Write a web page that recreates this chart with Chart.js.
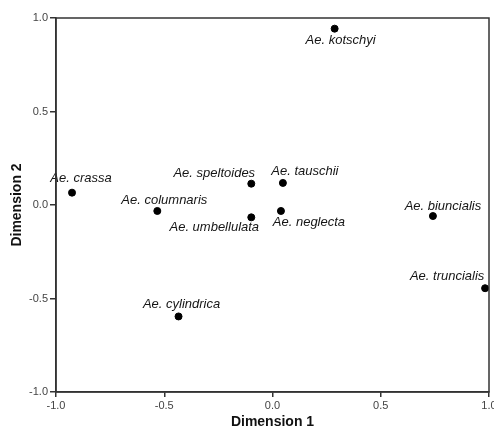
<!DOCTYPE html>
<html>
<head>
<meta charset="utf-8">
<script src="https://cdn.jsdelivr.net/npm/chart.js@4.4.0/dist/chart.umd.min.js"></script>
<style>
  body { margin: 0; background: #fff; }
  canvas { display: block; }
</style>
</head>
<body>
<canvas id="myChart" width="494" height="429"></canvas>
<script>
// species names and their coordinates on the two dimensions
const species = ['Ae. kotschyi', 'Ae. crassa', 'Ae. columnaris', 'Ae. speltoides', 'Ae. tauschii',
    'Ae. neglecta', 'Ae. umbellulata', 'Ae. biuncialis', 'Ae. truncialis', 'Ae. cylindrica']
const dim1 = [0.287, -0.926, -0.532, -0.098, 0.048, 0.039, -0.098, 0.741, 0.982, -0.434]
const dim2 = [0.943, 0.066, -0.032, 0.114, 0.118, -0.032, -0.066, -0.059, -0.445, -0.596]
const axisTicks = [-1.0, -0.5, 0.0, 0.5, 1.0]

// where each name sits relative to its point (pixels)
const labelOffsets = [[6, 12], [9, -14], [7, -11], [-37, -10], [22, -12],
    [28, 11], [-37, 10], [10, -10], [-38, -12], [3, -12]]

function getPoints() {
    let pts = []
    dim1.forEach((x, i) => {
        pts.push({ x: x, y: dim2[i] })
    })
    return pts
}

const frame = {
    id: 'frame',
    afterDraw(chart) {
        const a = chart.chartArea
        const ctx = chart.ctx
        ctx.save()
        ctx.strokeStyle = '#333'
        ctx.lineWidth = 1.5
        ctx.strokeRect(a.left, a.top, a.right - a.left, a.bottom - a.top)
        ctx.restore()
    }
}

const pointNames = {
    id: 'pointNames',
    afterDatasetsDraw(chart) {
        const ctx = chart.ctx
        const meta = chart.getDatasetMeta(0)
        ctx.save()
        ctx.font = 'italic 13px "Liberation Sans", Arial, sans-serif'
        ctx.fillStyle = '#151515'
        ctx.textAlign = 'center'
        ctx.textBaseline = 'middle'
        meta.data.forEach((el, i) => {
            ctx.fillText(species[i], el.x + labelOffsets[i][0], el.y + labelOffsets[i][1])
        })
        ctx.restore()
    }
}

function fixTicks(scale) {
    scale.ticks = axisTicks.map(v => ({ value: v }))
}

const tickFont = { family: '"Liberation Sans", Arial, sans-serif', size: 11 }
const titleFont = { family: '"Liberation Sans", Arial, sans-serif', size: 14, weight: 'bold', lineHeight: 1 }

var ctx = document.getElementById('myChart').getContext('2d')
var myChart = new Chart(ctx, {
    type: 'scatter',
    data: {
        datasets: [{
            data: getPoints(),
            backgroundColor: '#000',
            borderColor: '#000',
            pointRadius: 3.5,
            pointHoverRadius: 3.5
        }]
    },
    options: {
        responsive: false,
        animation: false,
        layout: { padding: { top: 18, right: 5, bottom: 0, left: 0 } },
        plugins: {
            legend: { display: false },
            tooltip: { enabled: false }
        },
        scales: {
            x: {
                min: -1,
                max: 1,
                afterBuildTicks: fixTicks,
                afterFit(scale) {
                    scale.height = 37
                    scale.paddingLeft = 0
                    scale.paddingRight = 0
                },
                ticks: {
                    color: '#444',
                    font: tickFont,
                    padding: 2,
                    maxRotation: 0,
                    autoSkip: false,
                    callback: v => Number(v).toFixed(1)
                },
                grid: { drawOnChartArea: false, tickLength: 5, color: '#333', lineWidth: 1.5 },
                border: { color: '#333', width: 1.5 },
                title: { display: true, text: 'Dimension 1', color: '#111', font: titleFont, padding: 0 }
            },
            y: {
                min: -1,
                max: 1,
                afterBuildTicks: fixTicks,
                afterFit(scale) {
                    scale.width = 56
                    scale.paddingTop = 0
                    scale.paddingBottom = 0
                },
                ticks: {
                    color: '#444',
                    font: tickFont,
                    padding: 2,
                    autoSkip: false,
                    callback: v => Number(v).toFixed(1)
                },
                grid: { drawOnChartArea: false, tickLength: 6, color: '#333', lineWidth: 1.5 },
                border: { color: '#333', width: 1.5 },
                title: { display: true, text: 'Dimension 2', color: '#111', font: titleFont, padding: { top: 10, bottom: 0 } }
            }
        }
    },
    plugins: [frame, pointNames]
})
</script>
</body>
</html>
